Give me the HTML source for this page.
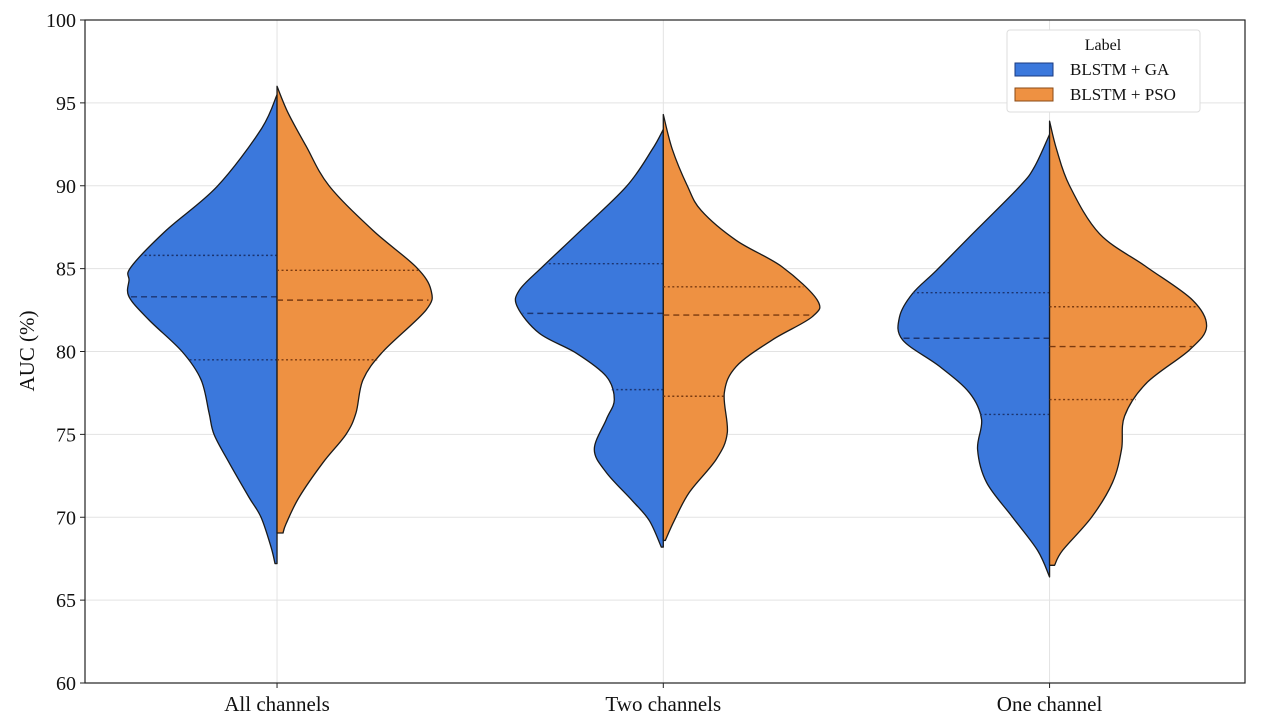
<!DOCTYPE html>
<html><head><meta charset="utf-8">
<style>
html,body{margin:0;padding:0;background:#fff;}
svg{display:block;font-family:"Liberation Serif",serif;}
</style></head>
<body>
<svg id="chart" width="1261" height="726" viewBox="0 0 1261 726">
  <g id="grid"></g>
  <g id="violins"></g>
  <rect x="85" y="20" width="1160" height="663" fill="none" stroke="#222" stroke-width="1.2"/>
  <g id="yticks"></g>
  <g id="xticks"></g>
  <text x="34" y="351" transform="rotate(-90 34 351)" text-anchor="middle" font-size="21" fill="#111">AUC (%)</text>
  <g>
    <rect x="1007" y="30" width="193" height="82" rx="3" fill="#fff" stroke="#ddd"/>
    <text x="1103" y="50" text-anchor="middle" font-size="16" fill="#111">Label</text>
    <rect x="1015" y="63" width="38" height="13" fill="#3b78dc" stroke="#1a3a80"/>
    <text x="1070" y="75" font-size="17" fill="#111">BLSTM + GA</text>
    <rect x="1015" y="88" width="38" height="13" fill="#ee9142" stroke="#8a4a15"/>
    <text x="1070" y="100" font-size="17" fill="#111">BLSTM + PSO</text>
  </g>
</svg>
<script>
const categories = ["All channels", "Two channels", "One channel"];
const yTicks = [60, 65, 70, 75, 80, 85, 90, 95, 100];
// density profiles: AUC levels (top to bottom) and relative density
const gaLevels1 = [95.5,93.4,89.95,87.3,85.1,84.3,83.3,81.9,80,78.3,76.3,75,73.3,71.2,70,68.2,67.2];
const gaDens1   = [0,1.6,6.0,11.1,14.6,14.8,14.8,12.8,9.5,7.6,6.8,6.3,4.8,2.8,1.6,0.6,0.2];
const psoLevels1 = [96.0,94.4,92.4,90,87.3,85.1,83.7,82.5,80,78.3,76.3,75,73.3,71.2,69.6,69.05];
const psoDens1   = [0,1.1,2.9,5.2,9.6,13.9,15.4,14.9,10.6,8.6,7.9,6.9,4.6,2.2,0.9,0.6];
const gaLevels2 = [93.4,92.2,89.95,87.1,85.1,83.7,82.7,81.1,79.9,78.5,77.1,75.9,74.1,72.7,71.0,69.8,68.2];
const gaDens2   = [0,1.1,3.7,8.6,12.1,14.4,14.6,12.4,8.7,5.7,4.9,5.7,6.9,5.7,3.1,1.4,0.2];
const psoLevels2 = [94.3,92.2,90,88.5,86.7,85.1,83.1,82.1,80.7,79.1,77.5,75.1,73.5,71.5,69.8,68.6];
const psoDens2   = [0,0.9,2.4,3.8,7.3,11.9,15.4,14.9,10.9,7.3,6.1,6.4,5.3,2.6,1.1,0.2];
const gaLevels3 = [93.1,91.15,89.95,87.1,84.9,83.5,82.1,80.7,79.1,77.5,75.9,74.1,72.1,70.0,68.0,66.4];
const gaDens3   = [0,1.5,3.0,7.7,11.3,13.7,15.0,14.7,11.0,8.0,6.8,7.2,6.3,3.7,1.2,0];
const psoLevels3 = [93.9,92.2,90,87.1,85.1,83.1,81.5,80.1,78.1,76.1,74.1,72.1,70,68,67.1];
const psoDens3   = [0,0.7,2.0,5.0,9.7,14.3,15.7,14.0,9.7,7.5,7.2,6.3,4.2,1.3,0.5];
const gaQuartiles = [[85.8,83.3,79.5],[85.3,82.3,77.7],[83.55,80.8,76.2]];
const psoQuartiles = [[84.9,83.1,79.5],[83.9,82.2,77.3],[82.7,80.3,77.1]];

const NS = "http://www.w3.org/2000/svg";
const plotL = 85, plotR = 1245, plotT = 20, plotB = 683;
const yMin = 60, yMax = 100;
const widthScale = 10;
function yScale(v){ return plotB - (v - yMin) / (yMax - yMin) * (plotB - plotT); }
const band = (plotR - plotL) / categories.length;
function xScale(i){ return plotL + band * (i + 0.5) - 1.3 - 0.4 * i; }

function mk(tag, attrs, parent){
  const el = document.createElementNS(NS, tag);
  for (const k in attrs) el.setAttribute(k, attrs[k]);
  parent.appendChild(el);
  return el;
}
function smoothPath(pts){
  let d = "M" + pts[0][0] + "," + pts[0][1];
  for (let i = 0; i < pts.length - 1; i++){
    const p0 = pts[Math.max(0, i - 1)], p1 = pts[i], p2 = pts[i + 1], p3 = pts[Math.min(pts.length - 1, i + 2)];
    const c1x = p1[0] + (p2[0] - p0[0]) / 6, c1y = p1[1] + (p2[1] - p0[1]) / 6;
    const c2x = p2[0] - (p3[0] - p1[0]) / 6, c2y = p2[1] - (p3[1] - p1[1]) / 6;
    d += " C" + c1x + "," + c1y + " " + c2x + "," + c2y + " " + p2[0] + "," + p2[1];
  }
  return d;
}
function widthAt(levels, dens, v){
  for (let i = 0; i < levels.length - 1; i++){
    if (v <= levels[i] && v >= levels[i + 1]){
      const t = (levels[i] - v) / (levels[i] - levels[i + 1]);
      return (dens[i] + t * (dens[i + 1] - dens[i])) * widthScale;
    }
  }
  return 0;
}

const grid = document.getElementById("grid");
const yt = document.getElementById("yticks");
yTicks.forEach(v => {
  const y = yScale(v);
  const gl = mk("line", {x1: plotL, x2: plotR, y1: y, y2: y, stroke: "#e3e3e3", "stroke-width": 1}, grid);
  
  
  const tk = mk("line", {x1: plotL - 5, x2: plotL, y1: y, y2: y, stroke: "#222"}, yt);
  
  
  const tx = mk("text", {x: plotL - 9, y: y + 7, "text-anchor": "end", "font-size": 20, fill: "#111"}, yt);
  tx.textContent = v;
  
  
});
const xt = document.getElementById("xticks");
categories.forEach((c, i) => {
  const x = xScale(i);
  const gl = mk("line", {x1: x, x2: x, y1: plotT, y2: plotB, stroke: "#e3e3e3"}, grid);
  
  
  const tk = mk("line", {x1: x, x2: x, y1: plotB, y2: plotB + 5, stroke: "#222"}, xt);
  
  
  const tx = mk("text", {x: x, y: 711, "text-anchor": "middle", "font-size": 21, fill: "#111"}, xt);
  tx.textContent = c;
  
  
});

const vg = document.getElementById("violins");
const halves = [
  [gaLevels1, gaDens1, psoLevels1, psoDens1],
  [gaLevels2, gaDens2, psoLevels2, psoDens2],
  [gaLevels3, gaDens3, psoLevels3, psoDens3]
];
halves.forEach((h, i) => {
  const cx = xScale(i);
  [[h[0], h[1], -1, "#3b78dc", gaQuartiles[i], "#1c3570", "ga"], [h[2], h[3], 1, "#ee9142", psoQuartiles[i], "#7a3a10", "pso"]].forEach(s => {
    const [lv, dn, dir, col, qs, qcol, nm] = s;
    const pts = lv.map((v, k) => [cx + dir * dn[k] * widthScale, yScale(v)]);
    let d = "M" + cx + "," + yScale(lv[0]) + " L" + smoothPath(pts).slice(1) + " L" + cx + "," + yScale(lv[lv.length - 1]) + " Z";
    const p = mk("path", {d: d, fill: col, stroke: "#1a1a1a", "stroke-width": 1.3, "stroke-linejoin": "round"}, vg);
    
    
    qs.forEach((q, k) => {
      const w = widthAt(lv, dn, q);
      const ln = mk("line", {x1: cx, x2: cx + dir * w, y1: yScale(q), y2: yScale(q), stroke: qcol, "stroke-width": 1.4,
        "stroke-dasharray": k === 1 ? "6,4" : "2,2.5"}, vg);
      
      
    });
  });
});
</script>
</body></html>
